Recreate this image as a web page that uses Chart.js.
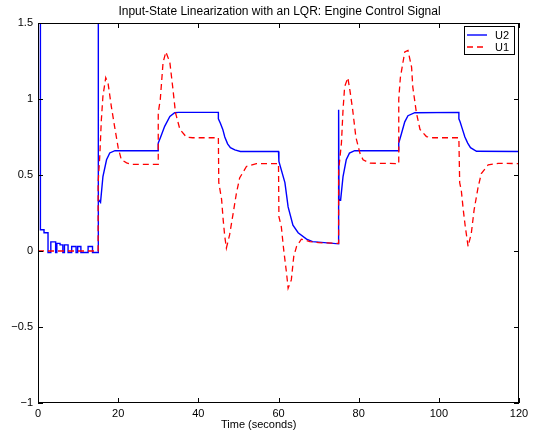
<!DOCTYPE html>
<html>
<head>
<meta charset="utf-8">
<script src="https://cdn.jsdelivr.net/npm/chart.js@4.4.1/dist/chart.umd.min.js"></script>
<style>
  html, body { margin: 0; padding: 0; background: #fff; }
  canvas { display: block; }
</style>
</head>
<body>
<canvas id="engineChart" width="533" height="434"></canvas>
<script>
// U2 (blue, solid)
const u2Time = [0, 0.6, 0.6, 1.5, 1.5, 2.5, 2.5, 3.2, 3.2, 4.4, 4.4, 4.7, 4.7, 5.5, 5.5, 6.2, 6.2, 6.6, 6.6, 7.5, 7.5, 8.4, 8.4, 9.5, 9.5, 9.9, 9.9, 10.7, 10.7, 12.5, 12.5, 13.6, 13.6, 15,
  15, 15.1, 15.6, 16.2, 17.1, 17.9, 19.2, 30,
  30, 30.6, 31.6, 32.9, 34.1, 35, 45,
  45, 45.5, 46.1, 46.6, 47.3, 48, 49.1, 50.5, 60,
  60.1, 61.6, 62.4, 63.6, 64.9, 67, 68.5, 75,
  75, 75.1, 75.5, 76.1, 76.9, 77.7, 79, 90,
  90, 90.7, 91.5, 92.3, 94, 105,
  105, 105.3, 105.9, 106.5, 107.2, 107.9, 109.4, 120];
const u2Values = [3, 3, 0.14, 0.14, 0.12, 0.12, -0.01, -0.01, 0.06, 0.06, -0.01, -0.01, 0.05, 0.05, 0.04, 0.04, -0.01, -0.01, 0.04, 0.04, -0.01, -0.01, 0.03, 0.03, -0.01, -0.01, 0.03, 0.03, -0.01, -0.01, 0.03, 0.03, -0.01, -0.01,
  3, 0.34, 0.32, 0.49, 0.6, 0.645, 0.66, 0.66,
  0.71, 0.75, 0.82, 0.885, 0.91, 0.912, 0.912,
  0.87, 0.84, 0.8, 0.75, 0.705, 0.68, 0.665, 0.655, 0.655,
  0.59, 0.45, 0.29, 0.17, 0.12, 0.078, 0.062, 0.047,
  0.93, 0.34, 0.336, 0.49, 0.6, 0.644, 0.66, 0.66,
  0.71, 0.775, 0.85, 0.89, 0.91, 0.912,
  0.87, 0.85, 0.8, 0.75, 0.71, 0.68, 0.656, 0.655];

// U1 (red, dashed)
const u1Time = [0, 15,
  15, 15.4, 15.8, 16.2, 16.9, 17.5, 18.3, 19.1, 20, 20.8, 22.1, 23.3, 30,
  30, 30.5, 31.2, 31.9, 32.9, 33.6, 34.3, 35.4, 37, 38.6, 45,
  45.1, 45.8, 46.2, 46.6, 47, 47.8, 48.7, 49.5, 50.3, 52, 54.5, 60,
  60.1, 60.7, 61.3, 62, 62.4, 63.2, 63.8, 64.5, 65.7, 67.8, 70, 75,
  75, 75.7, 76.1, 76.5, 77.3, 77.8, 78.5, 79.3, 80.3, 81.1, 82.8, 90,
  90, 90.4, 91.5, 92.3, 93.2, 93.5, 94.4, 95.3, 96.9, 98.5, 105,
  105.2, 105.6, 106.1, 106.6, 107.3, 108.1, 108.8, 109.8, 110.6, 112.3, 114.8, 120];
const u1Values = [0, 0,
  0.45, 0.62, 0.86, 1.02, 1.14, 1.1, 0.95, 0.82, 0.68, 0.6, 0.58, 0.57, 0.57,
  0.91, 0.995, 1.24, 1.31, 1.24, 1.08, 0.91, 0.8, 0.75, 0.745, 0.745,
  0.45, 0.34, 0.205, 0.095, 0.02, 0.106, 0.25, 0.38, 0.48, 0.556, 0.575, 0.575,
  0.226, 0.16, 0.007, -0.144, -0.245, -0.19, -0.037, 0.029, 0.078, 0.062, 0.055, 0.05,
  0.53, 0.71, 0.93, 1.08, 1.14, 1.06, 0.93, 0.75, 0.644, 0.6, 0.578, 0.575,
  1.0, 1.14, 1.31, 1.32, 1.21, 1.08, 0.91, 0.8, 0.753, 0.745, 0.745,
  0.45, 0.4, 0.27, 0.16, 0.03, 0.116, 0.27, 0.42, 0.51, 0.566, 0.577, 0.575];

const xTicks = [0, 20, 40, 60, 80, 100, 120];
const yTicks = [-1, -0.5, 0, 0.5, 1, 1.5];

const seriesNames = ['U2', 'U1'];
const titleText = 'Input-State Linearization with an LQR: Engine Control Signal';
const xLabelText = 'Time (seconds)';

const FAMILY = '"Liberation Sans", Arial, Helvetica, sans-serif';

const toPoints = (xs, ys) => xs.map((t, i) => ({ x: t, y: ys[i] }));

// MATLAB style box, inward ticks, title, xlabel and legend
const matlabFrame = {
    id: 'matlabFrame',
    afterDraw(chart) {
        const { ctx, chartArea: a, scales: { x, y } } = chart;
        ctx.save();
        ctx.strokeStyle = '#000';
        ctx.lineWidth = 1;
        ctx.strokeRect(a.left + 0.5, a.top + 0.5, a.right - a.left - 1, a.bottom - a.top - 1);

        ctx.beginPath();
        xTicks.forEach(v => {
            const px = Math.round(x.getPixelForValue(v)) + 0.5;
            ctx.moveTo(px, a.bottom); ctx.lineTo(px, a.bottom - 5);
            ctx.moveTo(px, a.top); ctx.lineTo(px, a.top + 5);
        });
        yTicks.forEach(v => {
            const py = Math.round(y.getPixelForValue(v)) + 0.5;
            ctx.moveTo(a.left, py); ctx.lineTo(a.left + 5, py);
            ctx.moveTo(a.right, py); ctx.lineTo(a.right - 5, py);
        });
        ctx.stroke();

        ctx.fillStyle = '#000';
        ctx.textBaseline = 'middle';
        ctx.textAlign = 'center';
        ctx.font = '12px ' + FAMILY;
        ctx.fillText(titleText, (a.left + a.right) / 2 + 1, 11.5);
        ctx.textAlign = 'left';
        ctx.font = '11px ' + FAMILY;
        ctx.fillText(xLabelText, 221, 424.5);

        // legend
        const lx = 464, ly = 26, lw = 50, lh = 28;
        ctx.fillStyle = '#fff';
        ctx.fillRect(lx, ly, lw, lh);
        ctx.strokeRect(lx + 0.5, ly + 0.5, lw, lh);
        chart.data.datasets.slice().reverse().forEach((ds, i) => {
            const yy = ly + 9 + i * 12;
            ctx.beginPath();
            ctx.strokeStyle = ds.borderColor;
            ctx.lineWidth = ds.borderWidth;
            ctx.setLineDash(ds.borderDash || []);
            ctx.moveTo(lx + 3, yy); ctx.lineTo(lx + 23, yy);
            ctx.stroke();
            ctx.setLineDash([]);
            ctx.fillStyle = '#000';
            ctx.fillText(ds.label, lx + 31, yy + 0.5);
        });
        ctx.restore();
    }
};

new Chart(document.getElementById('engineChart'), {
    type: 'line',
    data: {
        datasets: [
            {
                label: seriesNames[1],
                data: toPoints(u1Time, u1Values),
                borderColor: '#ff0000',
                borderWidth: 1.3,
                borderDash: [6, 4],
                pointRadius: 0,
                tension: 0
            },
            {
                label: seriesNames[0],
                data: toPoints(u2Time, u2Values),
                borderColor: '#0000ff',
                borderWidth: 1.4,
                pointRadius: 0,
                tension: 0
            }
        ]
    },
    options: {
        responsive: false,
        animation: false,
        devicePixelRatio: 1,
        layout: { padding: { top: 23, right: 14, left: 0, bottom: 0 } },
        plugins: {
            legend: { display: false },
            title: { display: false },
            tooltip: { enabled: false }
        },
        scales: {
            x: {
                type: 'linear',
                min: 0,
                max: 120,
                afterBuildTicks: s => { s.ticks = xTicks.map(v => ({ value: v })); },
                afterFit: s => { s.height = 31; },
                grid: { display: false, drawTicks: false },
                border: { display: false },
                ticks: {
                    color: '#000',
                    padding: 4,
                    maxRotation: 0,
                    font: { family: FAMILY, size: 11 }
                }
            },
            y: {
                type: 'linear',
                min: -1,
                max: 1.5,
                afterBuildTicks: s => { s.ticks = yTicks.map(v => ({ value: v })); },
                afterFit: s => { s.width = 38; },
                grid: { display: false, drawTicks: false },
                border: { display: false },
                ticks: {
                    color: '#000',
                    padding: 5,
                    font: { family: FAMILY, size: 11 },
                    callback: v => v < 0 ? '\u2212' + Math.abs(v) : String(v)
                }
            }
        }
    },
    plugins: [matlabFrame]
});
</script>
</body>
</html>
